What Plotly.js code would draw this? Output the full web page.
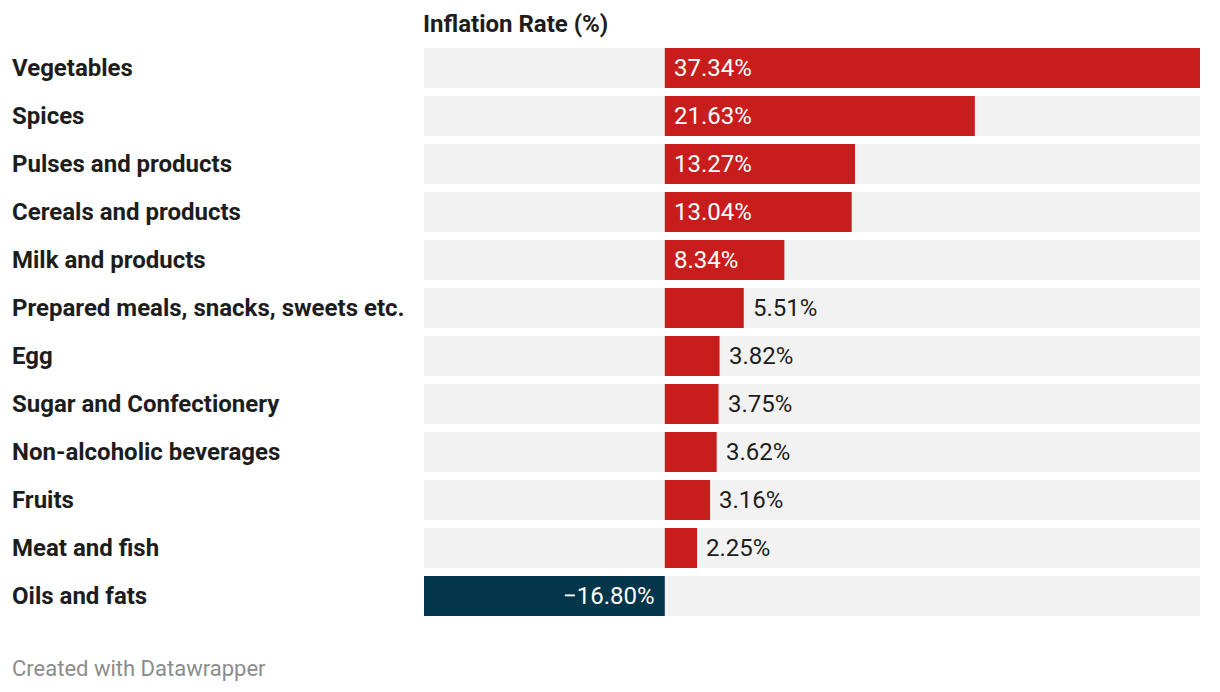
<!DOCTYPE html>
<html>
<head>
<meta charset="utf-8">
<script src="https://cdn.plot.ly/plotly-3.0.1.min.js"></script>
<style>
html,body{margin:0;padding:0;background:#fff;}
#chart{width:1220px;height:692px;}
</style>
</head>
<body>
<div id="chart"></div>
<script>
const categories = [
  "Vegetables",
  "Spices",
  "Pulses and products",
  "Cereals and products",
  "Milk and products",
  "Prepared meals, snacks, sweets etc.",
  "Egg",
  "Sugar and Confectionery",
  "Non-alcoholic beverages",
  "Fruits",
  "Meat and fish",
  "Oils and fats"
];
const values = [37.34, 21.63, 13.27, 13.04, 8.34, 5.51, 3.82, 3.75, 3.62, 3.16, 2.25, -16.80];
const valueLabels = ["37.34%","21.63%","13.27%","13.04%","8.34%","5.51%","3.82%","3.75%","3.62%","3.16%","2.25%","\u221216.80%"];
const chartTitle = "Inflation Rate (%)";
const footer = "Created with Datawrapper";

const RED = "#c71e1d", NAVY = "#03354b", BG = "#f2f2f2", TXT = "#1d1d1d";
const xMin = Math.min(...values), xMax = Math.max(...values);
const insideThreshold = 7;

const bgTrace = {
  type: "bar", orientation: "h",
  y: categories, x: categories.map(() => xMax - xMin), base: categories.map(() => xMin),
  marker: {color: BG}, hoverinfo: "skip", showlegend: false
};
const valTrace = {
  type: "bar", orientation: "h",
  y: categories, x: values,
  marker: {color: values.map(v => v < 0 ? NAVY : RED)},
  showlegend: false, hoverinfo: "x+y"
};

const annotations = [];
const W = 1220, L = 424, R = 20, plotW = W - L - R;
categories.forEach((c, i) => {
  annotations.push({
    xref: "paper", yref: "y", x: -(L - 10) / plotW, y: c, xanchor: "left", yanchor: "middle",
    text: "<b>" + c + "</b>", showarrow: false,
    font: {family: "Roboto", size: 24, color: TXT}
  });
  const v = values[i];
  let a;
  if (v < 0) {
    a = {x: 0, xanchor: "right", xshift: -8, color: "#ffffff"};
  } else if (v >= insideThreshold) {
    a = {x: 0, xanchor: "left", xshift: 7, color: "#ffffff"};
  } else {
    a = {x: v, xanchor: "left", xshift: 7, color: TXT};
  }
  annotations.push({
    xref: "x", yref: "y", x: a.x, y: c, xanchor: a.xanchor, xshift: a.xshift, yanchor: "middle",
    text: valueLabels[i], showarrow: false,
    font: {family: "Roboto", size: 24, color: a.color}
  });
});
annotations.push({
  xref: "paper", yref: "paper", x: 0, y: 1, xanchor: "left", yanchor: "middle", yshift: 20, xshift: -3,
  text: "<b>" + chartTitle + "</b>", showarrow: false,
  font: {family: "Roboto", size: 24, color: TXT}
});
annotations.push({
  xref: "paper", yref: "paper", x: -(L - 10) / plotW, y: 0, xanchor: "left", yanchor: "middle", yshift: -48,
  text: footer, showarrow: false,
  font: {family: "Roboto", size: 22, color: "#8c8c8c"}
});

const layout = {
  width: 1220, height: 692,
  margin: {l: L, r: R, t: 44, b: 72, pad: 0},
  paper_bgcolor: "#fff", plot_bgcolor: "#fff",
  barmode: "overlay", bargap: 1/6,
  xaxis: {range: [xMin, xMax], visible: false, fixedrange: true},
  yaxis: {categoryorder: "array", categoryarray: categories, autorange: "reversed",
          showticklabels: false, showgrid: false, zeroline: false, fixedrange: true},
  annotations: annotations,
  font: {family: "Roboto"}
};

Plotly.newPlot("chart", [bgTrace, valTrace], layout, {displayModeBar: false, staticPlot: true});
</script>
</body>
</html>
